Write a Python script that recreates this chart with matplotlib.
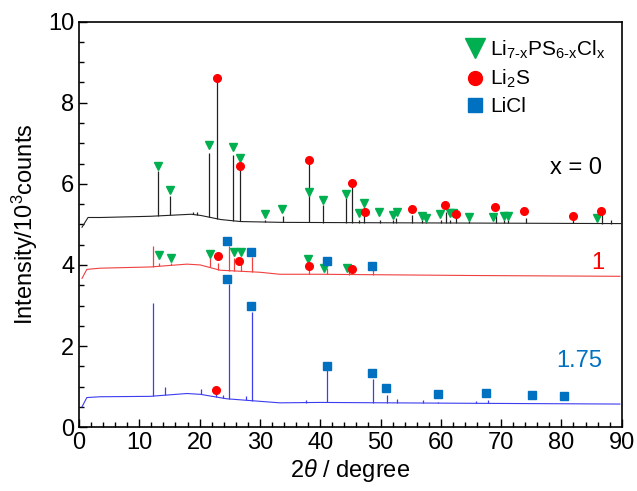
import numpy as np
from matplotlib import pyplot as plt
from matplotlib.lines import Line2D
from matplotlib.ticker import MultipleLocator

plt.rcParams['font.family'] = 'Liberation Sans'
plt.rcParams['mathtext.fontset'] = 'custom'
plt.rcParams['mathtext.rm'] = 'Liberation Sans'
plt.rcParams['mathtext.it'] = 'Liberation Sans:italic'
plt.rcParams['mathtext.default'] = 'regular'

# x = 0 (black)
blackBaseX = [0.5, 1.5, 3.6, 11.9, 18.6, 20.2, 23.5, 26.8, 33.5, 50.0, 70.0, 89.8]
blackBaseY = [4.93, 5.17, 5.17, 5.20, 5.25, 5.22, 5.12, 5.07, 5.05, 5.04, 5.03, 5.02]
blackPeakX = [13.1, 15.1, 18.9, 19.6, 21.56, 22.9, 25.5, 26.7, 30.85, 33.8, 38.2, 40.5,
              44.3, 45.2, 46.5, 47.3, 49.9, 52.1, 52.6, 55.3, 56.8, 57.5, 60.0, 60.8,
              61.5, 62.5, 64.6, 69.2, 70.5, 71.2, 74.1, 81.9, 86.7, 88.3]
blackPeakY = [6.31, 5.71, 5.30, 5.30, 6.77, 8.60, 6.72, 6.38, 5.12, 5.20, 6.59, 5.47,
              5.64, 6.03, 5.10, 5.42, 5.12, 5.12, 5.15, 5.22, 5.10, 5.10, 5.12, 5.30,
              5.12, 5.15, 5.08, 5.28, 5.10, 5.10, 5.15, 5.10, 5.25, 5.10]
blackTriX = [13.1, 15.1, 21.56, 25.5, 26.7, 30.85, 33.7, 38.2, 40.4, 44.2, 46.4, 47.3,
             49.8, 52.0, 52.7, 56.8, 57.5, 59.8, 61.5, 62.1, 64.6, 68.7, 70.5, 71.2, 85.9]
blackTriY = [6.43, 5.84, 6.95, 6.90, 6.63, 5.25, 5.37, 5.80, 5.59, 5.74, 5.28, 5.52,
             5.30, 5.24, 5.31, 5.20, 5.16, 5.25, 5.27, 5.28, 5.18, 5.18, 5.21, 5.21, 5.16]
blackCircX = [22.9, 26.7, 38.2, 45.2, 47.4, 55.2, 60.7, 62.5, 69.0, 73.8, 81.9, 86.6]
blackCircY = [8.62, 6.45, 6.59, 6.03, 5.30, 5.37, 5.47, 5.25, 5.43, 5.32, 5.20, 5.34]

# x = 1 (red)
redBaseX = [0.5, 1.3, 3.5, 11.8, 17.9, 20.1, 23.4, 30.0, 33.3, 40.0, 64.8, 89.7]
redBaseY = [3.67, 3.89, 3.92, 3.95, 4.02, 4.00, 3.87, 3.82, 3.77, 3.77, 3.74, 3.72]
redPeakX = [12.2, 13.2, 15.2, 21.7, 23.0, 24.8, 25.7, 26.9, 28.7, 38.2, 41.1, 44.8, 48.7]
redPeakY = [4.47, 4.06, 4.04, 4.16, 4.06, 4.47, 4.16, 4.06, 4.19, 3.87, 3.92, 3.84, 3.87]
redTriX = [13.2, 15.2, 21.7, 25.7, 26.8, 37.9, 40.6, 44.5]
redTriY = [4.24, 4.18, 4.28, 4.32, 4.32, 4.14, 3.93, 3.93]
redCircX = [23.0, 26.6, 38.2, 45.2]
redCircY = [4.22, 4.10, 3.97, 3.91]
redSqX = [24.5, 28.6, 41.1, 48.6]
redSqY = [4.60, 4.32, 4.09, 3.97]

# x = 1.75 (blue)
blueBaseX = [0.5, 1.3, 3.5, 11.8, 17.9, 20.1, 24.5, 28.9, 33.3, 40.0, 63.2, 89.7]
blueBaseY = [0.50, 0.73, 0.75, 0.76, 0.83, 0.81, 0.70, 0.65, 0.60, 0.61, 0.59, 0.57]
bluePeakX = [12.2, 14.2, 20.2, 22.8, 23.8, 24.8, 27.7, 28.7, 37.7, 41.2, 48.8, 51.1,
             52.8, 57.1, 59.6, 65.9, 67.9]
bluePeakY = [3.07, 0.99, 0.94, 0.84, 0.80, 3.54, 0.77, 2.84, 0.66, 1.40, 1.18, 0.79,
             0.69, 0.66, 0.63, 0.64, 0.66]
blueCircX = [22.7]
blueCircY = [0.91]
blueSqX = [24.5, 28.6, 41.2, 48.6, 50.9, 59.6, 67.5, 75.2, 80.4]
blueSqY = [3.65, 2.99, 1.52, 1.33, 0.97, 0.81, 0.84, 0.80, 0.78]

green = '#00B050'
red = '#FF0000'
blue = '#0070C0'

fig = plt.figure(figsize=(6.37, 4.91), dpi=100)
ax = fig.add_axes([0.124, 0.130, 0.852, 0.826])

traces = [
    (blackBaseX, blackBaseY, blackPeakX, blackPeakY, '#222222'),
    (redBaseX, redBaseY, redPeakX, redPeakY, '#F04040'),
    (blueBaseX, blueBaseY, bluePeakX, bluePeakY, '#3C3CF0'),
]
for bx, by, px, py, col in traces:
    ax.plot(bx, by, color=col, lw=0.8)
    # sticks start on the baseline under each peak
    base = np.interp(px, bx, by)
    ax.vlines(px, base, py, color=col, lw=0.9)

ms = 6
ax.plot(blackTriX, blackTriY, 'v', color=green, ms=ms, ls='none', zorder=5)
ax.plot(redTriX, redTriY, 'v', color=green, ms=ms, ls='none', zorder=5)
ax.plot(blackCircX, blackCircY, 'o', color=red, ms=5.5, ls='none', zorder=5)
ax.plot(redCircX, redCircY, 'o', color=red, ms=5.5, ls='none', zorder=5)
ax.plot(blueCircX, blueCircY, 'o', color=red, ms=5.5, ls='none', zorder=5)
ax.plot(redSqX, redSqY, 's', color=blue, ms=5.5, ls='none', zorder=5)
ax.plot(blueSqX, blueSqY, 's', color=blue, ms=5.5, ls='none', zorder=5)

ax.text(82.4, 6.4, 'x = 0', fontsize=17, ha='center', va='center', color='black')
ax.text(86.0, 4.06, '1', fontsize=17, ha='center', va='center', color=red)
ax.text(82.9, 1.63, '1.75', fontsize=17, ha='center', va='center', color=blue)

handles = [
    Line2D([], [], marker='v', color=green, ls='none', ms=14),
    Line2D([], [], marker='o', color=red, ls='none', ms=10),
    Line2D([], [], marker='s', color=blue, ls='none', ms=9.5),
]
labels = [r'Li$_{7‐x}$PS$_{6‐x}$Cl$_x$', r'Li$_2$S', 'LiCl']
ax.legend(handles, labels, loc='upper right', bbox_to_anchor=(1.0, 1.0), frameon=False,
          fontsize=15, handlelength=0.8, handletextpad=0.3, labelspacing=0.35,
          borderpad=0.3)

ax.set_xlim(0, 90)
ax.set_ylim(0, 10)
ax.xaxis.set_major_locator(MultipleLocator(10))
ax.xaxis.set_minor_locator(MultipleLocator(2))
ax.yaxis.set_major_locator(MultipleLocator(2))
ax.yaxis.set_minor_locator(MultipleLocator(0.5))
ax.tick_params(which='both', direction='in', labelsize=17, width=1.0)
ax.tick_params(which='major', length=6)
ax.tick_params(which='minor', length=3.5)
for s in ax.spines.values():
    s.set_linewidth(1.2)

ax.set_xlabel(r'2$\mathit{\theta}$ / degree', fontsize=17, labelpad=2)
ax.set_ylabel(r'Intensity/10$^3$counts', fontsize=17, labelpad=6)

fig.savefig('out.png', dpi=100)
